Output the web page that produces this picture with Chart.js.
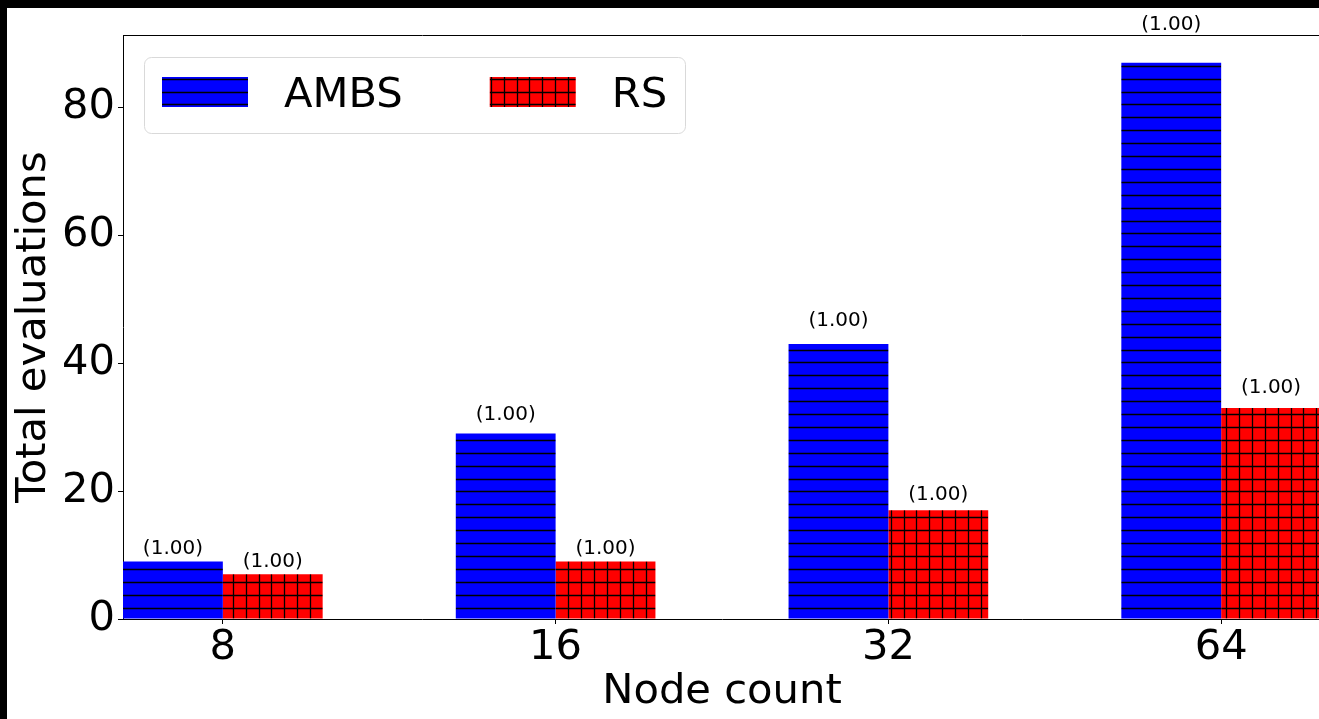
<!DOCTYPE html>
<html><head><meta charset="utf-8">
<script src="https://cdn.jsdelivr.net/npm/chart.js@4.4.1/dist/chart.umd.min.js"></script>
<style>
html,body{margin:0;padding:0;background:#000;overflow:hidden;width:1319px;height:719px;}
#wrap{position:absolute;left:7px;top:8px;width:1320px;height:711px;background:#fff;}
canvas{display:block;}
</style></head><body>
<div id="wrap"><canvas id="c" width="1320" height="711"></canvas></div>
<script>
// ---- data ----
const categories = ['8', '16', '32', '64'];
const seriesNames = ['AMBS', 'RS'];
const ambsValues = [9, 29, 43, 87];
const rsValues = [7, 9, 17, 33];
const ambsRatios = [1.00, 1.00, 1.00, 1.00];
const rsRatios = [1.00, 1.00, 1.00, 1.00];
const yTicks = [0, 20, 40, 60, 80];
const yMax = 91.35;
const xTitle = 'Node count';
const yTitle = 'Total evaluations';

const FONT = '"DejaVu Sans", "Liberation Sans", sans-serif';
const BIG = 41.67;
const HATCH = { spacing: 12.9, y0: 57.7, x0: 225.7 };

function drawHatch(ctx, l, t, r, b, type) {
  if (r <= l || b <= t) return;
  ctx.save();
  ctx.beginPath(); ctx.rect(l, t, r - l, b - t); ctx.clip();
  ctx.strokeStyle = '#000'; ctx.lineWidth = 1.3;
  ctx.beginPath();
  const s = HATCH.spacing;
  let k = Math.ceil((t - HATCH.y0) / s);
  for (; HATCH.y0 + k * s < b; k++) {
    const y = Math.round(HATCH.y0 + k * s) + 0.5;
    ctx.moveTo(l, y); ctx.lineTo(r, y);
  }
  if (type === '+') {
    let k2 = Math.ceil((l - HATCH.x0) / s);
    for (; HATCH.x0 + k2 * s < r; k2++) {
      const x = Math.round(HATCH.x0 + k2 * s) + 0.5;
      ctx.moveTo(x, t); ctx.lineTo(x, b);
    }
  }
  ctx.stroke();
  ctx.restore();
}

const hatchPlugin = {
  id: 'hatch',
  afterDatasetsDraw(chart) {
    const ctx = chart.ctx, ca = chart.chartArea;
    chart.data.datasets.forEach((ds, di) => {
      const meta = chart.getDatasetMeta(di);
      meta.data.forEach(bar => {
        const p = bar.getProps(['x', 'y', 'base', 'width'], true);
        const l = Math.max(p.x - p.width / 2, ca.left), r = Math.min(p.x + p.width / 2, ca.right);
        const t = Math.min(p.y, p.base), b = Math.max(p.y, p.base);
        drawHatch(ctx, l, t, r, b, ds.hatch);
      });
    });
  }
};

const framePlugin = {
  id: 'frame',
  afterDatasetsDraw(chart) {
    const ctx = chart.ctx, ca = chart.chartArea;
    ctx.save();
    ctx.strokeStyle = '#000'; ctx.lineWidth = 1;
    ctx.beginPath();
    ctx.moveTo(ca.left, Math.round(ca.top) + 0.5);
    ctx.lineTo(ca.right, Math.round(ca.top) + 0.5);
    ctx.stroke();
    ctx.restore();
  }
};

const labelPlugin = {
  id: 'barLabels',
  afterDraw(chart) {
    const ctx = chart.ctx, ys = chart.scales.y;
    ctx.save();
    ctx.font = '20px ' + FONT;
    ctx.fillStyle = '#000';
    ctx.textAlign = 'center';
    ctx.textBaseline = 'bottom';
    chart.data.datasets.forEach((ds, di) => {
      const meta = chart.getDatasetMeta(di);
      meta.data.forEach((bar, i) => {
        const v = ds.data[i].y;
        const y = ys.getPixelForValue(v * 1.05);
        ctx.fillText('(' + ds.ratios[i].toFixed(2) + ')', bar.x, y);
      });
    });
    ctx.restore();
  }
};

const legendPlugin = {
  id: 'boxLegend',
  afterDraw(chart) {
    const ctx = chart.ctx, ca = chart.chartArea;
    const bx = ca.left + 21, by = ca.top + 22, bw = 541, bh = 76, rad = 7;
    ctx.save();
    ctx.beginPath();
    ctx.roundRect(bx + 0.5, by + 0.5, bw, bh, rad);
    ctx.fillStyle = 'rgba(255,255,255,0.8)';
    ctx.fill();
    ctx.strokeStyle = '#d9d9d9'; ctx.lineWidth = 1;
    ctx.stroke();
    ctx.font = BIG + 'px ' + FONT;
    ctx.textBaseline = 'alphabetic';
    ctx.textAlign = 'left';
    let x = bx + 18;
    const pw = 86, ph = 30, py = by + 20;
    chart.data.datasets.forEach((ds, di) => {
      ctx.fillStyle = ds.backgroundColor;
      ctx.fillRect(x, py, pw, ph);
      drawHatch(ctx, x, py, x + pw, py + ph, ds.hatch);
      ctx.fillStyle = '#000';
      const tx = x + pw + 36;
      ctx.fillText(ds.label, tx, py + ph);
      x = tx + ctx.measureText(ds.label).width + 87;
    });
    ctx.restore();
  }
};

const ctx = document.getElementById('c').getContext('2d');
new Chart(ctx, {
  type: 'bar',
  data: {
    datasets: [
      { label: seriesNames[0], data: ambsValues.map((v, i) => ({ x: i, y: v })), backgroundColor: '#0000ff', borderWidth: 0, hatch: '-', ratios: ambsRatios },
      { label: seriesNames[1], data: rsValues.map((v, i) => ({ x: i, y: v })), backgroundColor: '#ff0000', borderWidth: 0, hatch: '+', ratios: rsRatios }
    ]
  },
  options: {
    responsive: false,
    animation: false,
    devicePixelRatio: 1,
    categoryPercentage: 0.6,
    barPercentage: 1.0,
    layout: { padding: { left: 0, right: 6, top: 27, bottom: 0 } },
    plugins: { legend: { display: false }, tooltip: { enabled: false } },
    scales: {
      x: {
        type: 'linear', min: -0.3, max: 3.3, offset: false,
        afterBuildTicks: s => { s.ticks = categories.map((c, i) => ({ value: i })); },
        afterFit: s => { s.height = 100; s.paddingLeft = 0; s.paddingRight = 0; },
        ticks: { callback: v => categories[v], font: { family: FONT, size: BIG }, color: '#000', padding: -1, maxRotation: 0, autoSkip: false },
        grid: { display: true, offset: false, drawOnChartArea: false, drawTicks: true, tickLength: 5, color: '#000', lineWidth: 1 },
        border: { display: true, color: '#000', width: 1 },
        title: { display: true, text: xTitle, color: '#000', font: { family: FONT, size: BIG }, padding: { top: 0, bottom: 1.5 } }
      },
      y: {
        min: 0, max: yMax,
        afterBuildTicks: s => { s.ticks = yTicks.map(v => ({ value: v })); },
        afterFit: s => { s.width = 116; s.paddingTop = 0; s.paddingBottom = 0; },
        ticks: { font: { family: FONT, size: BIG }, color: '#000', padding: 3 },
        grid: { display: true, drawOnChartArea: false, drawTicks: true, tickLength: 5, color: '#000', lineWidth: 1 },
        border: { display: true, color: '#000', width: 1 },
        title: { display: true, text: yTitle, color: '#000', font: { family: FONT, size: BIG }, padding: { top: 2.5, bottom: 0 } }
      }
    }
  },
  plugins: [hatchPlugin, framePlugin, labelPlugin, legendPlugin]
});
</script>
</body></html>
